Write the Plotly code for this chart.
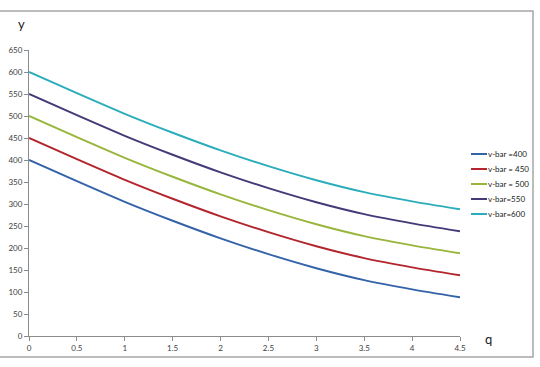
import plotly.graph_objects as go

q = [0, 0.5, 1, 1.5, 2, 2.5, 3, 3.5, 4, 4.5]
q_labels = ["0", "0.5", "1", "1.5", "2", "2.5", "3", "3.5", "4", "4.5"]
y_400 = [400, 352, 305, 262, 222, 186, 154, 127, 106, 88]
y_450 = [450, 402, 355, 312, 272, 236, 204, 177, 156, 138]
y_500 = [500, 452, 405, 362, 322, 286, 254, 227, 206, 188]
y_550 = [550, 502, 455, 412, 372, 336, 304, 277, 256, 238]
y_600 = [600, 552, 505, 462, 422, 386, 354, 327, 306, 288]
names = ["v-bar =400", "v-bar = 450", "v-bar = 500", "v-bar=550", "v-bar=600"]
series = [y_400, y_450, y_500, y_550, y_600]
colors = ["#3463A8", "#B3262E", "#98B53C", "#433A78", "#2CADBB"]

fig = go.Figure()
for n, s, c in zip(names, series, colors):
    fig.add_trace(go.Scatter(x=q, y=s, name=n, mode="lines", showlegend=False,
                             line=dict(color=c, width=2, shape="spline", smoothing=0.6)))

W, H = 540, 367
L, R, T, B = 29, 460, 50, 336
pw, ph = R - L, B - T

def px(x):
    return (x - L) / pw

def py(y):
    return (B - y) / ph

shapes = [dict(type="rect", xref="paper", yref="paper",
               x0=px(-2), x1=px(533), y0=py(357), y1=py(11),
               line=dict(color="#A6A6A6", width=1.5))]
annotations = [
    dict(text="y", xref="paper", yref="paper", x=px(21), y=py(24),
         showarrow=False, font=dict(size=13, color="#202020"),
         xanchor="center", yanchor="middle"),
    dict(text="q", xref="paper", yref="paper", x=px(488), y=py(339),
         showarrow=False, font=dict(size=13, color="#202020"),
         xanchor="center", yanchor="middle"),
]
# legend (manual, to match the compact spacing of the original)
for i, (n, c) in enumerate(zip(names, colors)):
    ly = 154 + 15 * i
    shapes.append(dict(type="line", xref="paper", yref="paper",
                       x0=px(471), x1=px(487), y0=py(ly), y1=py(ly),
                       line=dict(color=c, width=2)))
    annotations.append(dict(text=n, xref="paper", yref="paper", x=px(486), y=py(ly),
                            showarrow=False, xanchor="left", yanchor="middle",
                            font=dict(size=8, color="#202020")))

axis_common = dict(showgrid=False, zeroline=False, showline=True, linecolor="#8C8C8C",
                   linewidth=1, ticks="outside", ticklen=4, tickcolor="#8C8C8C",
                   tickfont=dict(size=8, color="#404040"), automargin=False)

fig.update_layout(
    width=W, height=H,
    margin=dict(l=L, r=W - R, t=T, b=H - B),
    paper_bgcolor="white", plot_bgcolor="white",
    font=dict(family="Lato, Open Sans, sans-serif", color="#404040", size=8),
    showlegend=False,
    xaxis=dict(range=[0, 4.5], tickvals=q, ticktext=q_labels, **axis_common),
    yaxis=dict(range=[0, 650], dtick=50, tick0=0, **axis_common),
    shapes=shapes,
    annotations=annotations,
)

fig.write_html("out.html", config={"displayModeBar": False},
               post_script="document.body.style.margin='0';")
